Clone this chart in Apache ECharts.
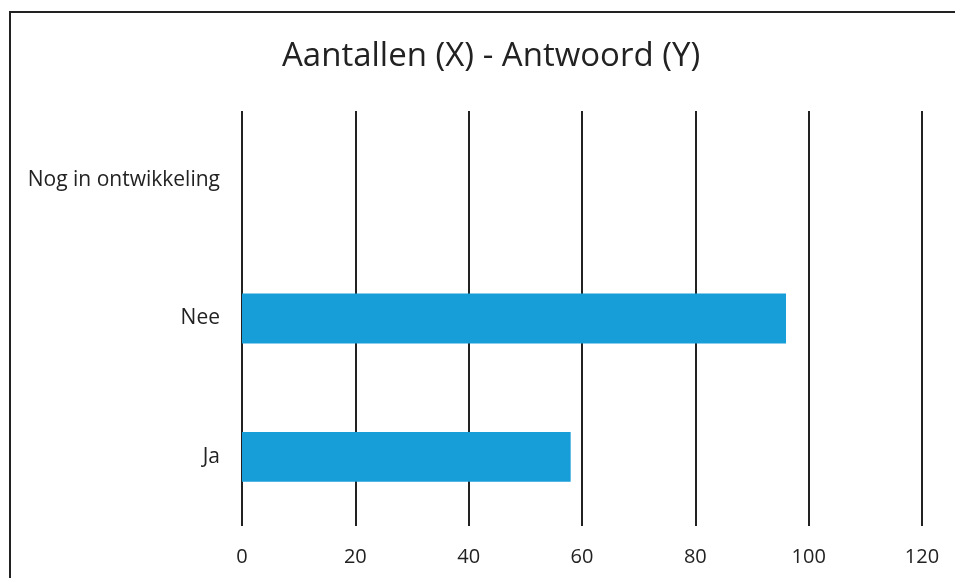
<!DOCTYPE html>
<html>
<head>
<meta charset="utf-8">
<script src="https://cdn.jsdelivr.net/npm/echarts@6/dist/echarts.min.js"></script>
<style>
    html, body { margin: 0; padding: 0; background: #fff; }
    #chart { width: 955px; height: 578px; }
</style>
</head>
<body>
<div id="chart"></div>
<script>
    var categories = ['Ja', 'Nee', 'Nog in ontwikkeling'];
    var values = [58, 96, 0];
    var xTicks = [0, 20, 40, 60, 80, 100, 120];

    var chart = echarts.init(document.getElementById('chart'));
    chart.setOption({
        animation: false,
        backgroundColor: '#fff',
        textStyle: { fontFamily: 'Open Sans' },
        title: {
            text: 'Aantallen (X) - Antwoord (Y)',
            left: 277,
            top: 35,
            textStyle: { fontSize: 33, fontWeight: 'normal', color: '#222', fontFamily: 'Open Sans' }
        },
        graphic: [
            {
                type: 'line',
                shape: { x1: 9, y1: 12, x2: 955, y2: 12 },
                style: { stroke: '#222', lineWidth: 2 },
                silent: true
            },
            {
                type: 'line',
                shape: { x1: 10, y1: 12, x2: 10, y2: 578 },
                style: { stroke: '#222', lineWidth: 2 },
                silent: true
            }
        ],
        grid: { left: 242, right: 33, top: 111, bottom: 52 },
        xAxis: {
            type: 'value',
            min: xTicks[0],
            max: xTicks[xTicks.length - 1],
            interval: 20,
            axisLine: { show: false },
            axisTick: { show: false },
            axisLabel: { fontSize: 20, color: '#222', margin: 21 },
            splitLine: { lineStyle: { color: '#222', width: 2 } }
        },
        yAxis: {
            type: 'category',
            data: categories,
            axisLine: { show: false },
            axisTick: { show: false },
            axisLabel: { fontSize: 21, color: '#222', margin: 22 }
        },
        series: [{
            type: 'bar',
            data: values,
            barWidth: '36%',
            itemStyle: { color: '#179ed9' }
        }]
    });
</script>
</body>
</html>
